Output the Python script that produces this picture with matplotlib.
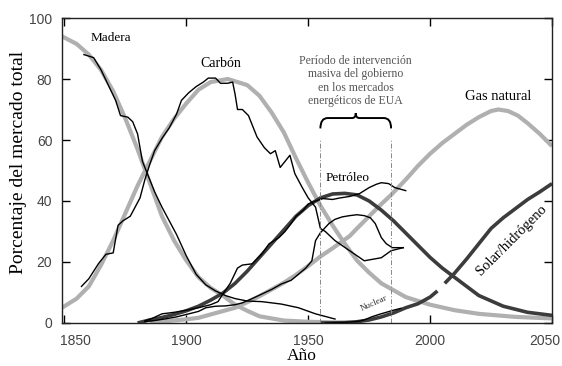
import matplotlib
matplotlib.use("Agg")
import matplotlib.pyplot as plt
import matplotlib.transforms as mtransforms
from matplotlib.path import Path
from matplotlib.patches import PathPatch
import numpy as np

# curvas de ajuste (logisticas)
madera_fit_x = [1849, 1855, 1860, 1865, 1870, 1875, 1880, 1885, 1890, 1895, 1900,
                1905, 1910, 1915, 1920, 1925, 1930, 1940, 1950, 1960, 1970]
madera_fit_y = [94, 91.5, 88, 83, 76, 67, 57, 46, 35, 27, 20.5,
                15, 11.5, 9, 6, 4, 2.2, 0.8, 0.4, 0.2, 0.1]

carbon_fit_x = [1849, 1855, 1860, 1865, 1870, 1875, 1880, 1885, 1890, 1895, 1900,
                1905, 1910, 1917, 1925, 1930, 1935, 1940, 1945, 1950, 1955, 1960,
                1965, 1970, 1975, 1980, 1990, 2000, 2010, 2020, 2035, 2050]
carbon_fit_y = [5, 8, 12, 19, 27, 36, 45, 53, 61, 67, 72,
                76.5, 79, 80, 78, 74.5, 69, 62.5, 54, 46, 38.5, 32,
                26, 20.5, 16.5, 13, 8.5, 6, 4.2, 3, 2, 1.5]

petroleo_fit_x = [1880, 1885, 1890, 1895, 1900, 1905, 1910, 1915, 1920, 1925, 1930,
                  1935, 1940, 1945, 1950, 1955, 1960, 1965, 1970, 1975, 1980, 1985,
                  1990, 1995, 2000, 2005, 2010, 2020, 2030, 2040, 2050]
petroleo_fit_y = [0, 1, 1.8, 2.8, 4, 5.5, 7.5, 9.8, 13, 17, 21.5,
                  26, 30.5, 35, 38.5, 41, 42.3, 42.5, 42, 40, 37, 33.5,
                  29.5, 25.5, 21.5, 18, 15, 9, 5.5, 3.5, 2.5]

gas_fit_x = [1885, 1890, 1900, 1905, 1910, 1920, 1926, 1930, 1935, 1940, 1945,
             1950, 1955, 1960, 1967, 1970, 1975, 1980, 1984, 1990, 1995, 2000,
             2005, 2010, 2015, 2020, 2025, 2028, 2032, 2036, 2040, 2045, 2050]
gas_fit_y = [0, 0.5, 1.2, 1.7, 2.8, 5, 7.2, 8.8, 11, 13.2, 15.8,
             18.7, 21.8, 24.5, 28.5, 31, 35, 39, 42, 47, 51.5, 55.5,
             59, 62, 65, 67.5, 69.5, 70, 69.5, 68, 65.5, 62, 58]

solar_fit_x = [1955, 1965, 1970, 1975, 1980, 1985, 1990, 1995, 2000, 2003, 2004.5,
               2006, 2010, 2015, 2020, 2025, 2030, 2035, 2040, 2045, 2050]
solar_fit_y = [0, 0.1, 0.4, 1, 2, 3.3, 5, 6.3, 8.5, 10.5, np.nan,
               13, 16.3, 21, 26, 31, 34.5, 37.5, 40.5, 43, 45.7]

# datos historicos (lineas negras finas)
madera_x = [1858, 1862, 1865, 1868, 1871, 1873, 1876, 1878, 1880, 1882, 1883, 1884,
            1887, 1890, 1893, 1896, 1900, 1904, 1908, 1912, 1916, 1920, 1925, 1931,
            1939, 1946, 1953, 1961]
madera_y = [88, 87, 83, 78, 73, 68, 67.5, 66, 62, 53, 51, 49,
            43, 38, 33.5, 29, 22, 16, 12.5, 10.5, 9, 8, 7.2, 7,
            6.2, 5, 3, 1.3]

carbon_x = [1857, 1860, 1864, 1867, 1870, 1872, 1874, 1877, 1879, 1881, 1883, 1885,
            1887, 1890, 1893, 1896, 1898, 1901, 1904, 1907, 1909, 1912, 1914, 1917,
            1919, 1920, 1921, 1923, 1925.5, 1929, 1932, 1934.5, 1936.5, 1938.5,
            1940.5, 1942.5, 1944.5, 1947.5, 1950, 1953, 1955, 1957, 1961, 1967,
            1973, 1980, 1984, 1989]
carbon_y = [12, 14.5, 19.5, 22.5, 23, 32, 33.5, 35, 38, 41, 47, 52,
            56.5, 60.5, 64, 68.5, 73, 75.5, 77.5, 79, 80.3, 80.3, 78.6, 78.6,
            79, 75, 70, 70, 68, 61, 57.5, 55.5, 56.5, 51,
            53, 55, 49, 44.5, 41, 38, 31, 30, 27, 23.7,
            20.4, 21.4, 23.7, 24.7]

petroleo_x = [1883, 1886, 1890, 1895, 1900, 1905, 1910, 1913, 1915, 1918, 1921,
              1923, 1927, 1931, 1934, 1938, 1940.5, 1943, 1945, 1948, 1950, 1953,
              1956, 1960, 1963, 1967, 1971, 1975, 1978, 1980, 1983, 1985.5, 1990]
petroleo_y = [0.7, 1.5, 3, 3.5, 4.2, 5, 6, 7, 9.5, 13, 18,
              19, 19.4, 22.7, 26, 28, 30, 32.6, 35, 37, 39, 40,
              40.8, 40.5, 41, 41.5, 42.4, 44.4, 45.5, 46, 45.7, 44.4, 43.4]

gas_x = [1883, 1887, 1891, 1896, 1901, 1905, 1908, 1912, 1916, 1920, 1923,
         1927, 1931, 1935, 1939, 1943, 1946, 1949, 1951.5, 1953, 1955, 1958.5,
         1961, 1964, 1967, 1970, 1973, 1975.5, 1977.5, 1980, 1982, 1984.5, 1989]
gas_y = [0.5, 0.8, 1.3, 2, 3, 3.8, 5, 5.5, 5.6, 6, 6.6,
         8, 9.5, 11, 12.8, 14, 16, 18, 20.4, 27, 29.6, 32.6,
         34, 34.8, 35.2, 35.5, 35.2, 34.5, 32.6, 28, 26, 24.7, 24.7]

nuclear_x = [1957, 1965, 1970, 1973, 1976, 1979, 1982, 1985, 1988]
nuclear_y = [0, 0.2, 0.5, 1, 2, 2.8, 3.5, 4.2, 4.8]

intervencion = [1955, 1984]

serif = "Liberation Serif"
sans = "Liberation Sans"

fig = plt.figure(figsize=(5.62, 3.66), dpi=100)
ax = fig.add_axes([0.1103, 0.1175, 0.8719, 0.8333])

gris = "#b0b0b0"
oscuro = "#3c3c3c"
ax.plot(madera_fit_x, madera_fit_y, color=gris, lw=3, solid_capstyle="butt")
ax.plot(carbon_fit_x, carbon_fit_y, color=gris, lw=3, solid_capstyle="butt")
ax.plot(gas_fit_x, gas_fit_y, color=gris, lw=3, solid_capstyle="butt")
ax.plot(petroleo_fit_x, petroleo_fit_y, color=oscuro, lw=2.6, solid_capstyle="butt")
ax.plot(solar_fit_x, solar_fit_y, color=oscuro, lw=2.6, solid_capstyle="butt")

for xs, ys in [(madera_x, madera_y), (carbon_x, carbon_y), (petroleo_x, petroleo_y),
               (gas_x, gas_y), (nuclear_x, nuclear_y)]:
    ax.plot(xs, ys, color="black", lw=1.0)

# periodo de intervencion: lineas verticales y llave
for x in intervencion:
    ax.plot([x, x], [0, 60], color="#888888", lw=0.7, ls=(0, (5, 2, 1, 2)))

x0, x1 = intervencion
xm = (x0 + x1) / 2
yb, yt = 63.8, 67.2
verts = [(x0, yb), (x0, yt), (x0 + 3, yt),
         (xm - 1.5, yt), (xm, yt), (xm, yt + 1.6),
         (xm, yt), (xm + 1.5, yt),
         (x1 - 3, yt), (x1, yt), (x1, yb)]
codes = [Path.MOVETO, Path.CURVE3, Path.CURVE3,
         Path.LINETO, Path.CURVE3, Path.CURVE3,
         Path.CURVE3, Path.CURVE3,
         Path.LINETO, Path.CURVE3, Path.CURVE3]
ax.add_patch(PathPatch(Path(verts, codes), fill=False, lw=1.4, ec="black"))

ax.text(xm, 79.3, "Período de intervención\nmasiva del gobierno\nen los mercados\nenergéticos de EUA",
        ha="center", va="center", fontsize=8.5, family=serif, color="#555555",
        linespacing=1.15)

ax.text(1869, 93.5, "Madera", ha="center", va="center", fontsize=9.5, family=serif)
ax.text(1914, 85, "Carbón", ha="center", va="center", fontsize=10, family=serif)
ax.text(2028, 74.3, "Gas natural", ha="center", va="center", fontsize=10.5, family=serif)
ax.text(1966, 47.4, "Petróleo", ha="center", va="center", fontsize=9.5, family=serif)
ax.text(2033.6, 27, "Solar/hidrógeno", ha="center", va="center", fontsize=10.5,
        family=serif, rotation=45)
ax.text(1977, 6.4, "Nuclear", ha="center", va="center", fontsize=6.5,
        family=serif, rotation=24, color="#333333")

ax.set_xlim(1849, 2050)
ax.set_ylim(0, 100)
ax.set_xticks([1850, 1900, 1950, 2000, 2050])
ax.set_yticks([0, 20, 40, 60, 80, 100])
ax.tick_params(direction="in", length=6, width=1, top=True, right=True,
               labelsize=10, labelcolor="#444444")
ax.tick_params(axis="x", pad=8)
ax.tick_params(axis="y", pad=7)
for lab in ax.get_xticklabels() + ax.get_yticklabels():
    lab.set_family(sans)

labs = ax.get_xticklabels()
off_l = mtransforms.ScaledTranslation(8 / 72, 0, fig.dpi_scale_trans)
off_r = mtransforms.ScaledTranslation(-5 / 72, 0, fig.dpi_scale_trans)
labs[0].set_transform(labs[0].get_transform() + off_l)
labs[-1].set_transform(labs[-1].get_transform() + off_r)

for s in ax.spines.values():
    s.set_linewidth(1.0)
    s.set_color("#222222")

ax.set_ylabel("Porcentaje del mercado total", family=serif, fontsize=14, labelpad=6)
ax.yaxis.set_label_coords(-0.072, 0.525)
ax.set_xlabel("Año", family=serif, fontsize=12.5, labelpad=0)
ax.xaxis.set_label_coords(0.49, -0.082)

fig.savefig("out.png", dpi=100)
